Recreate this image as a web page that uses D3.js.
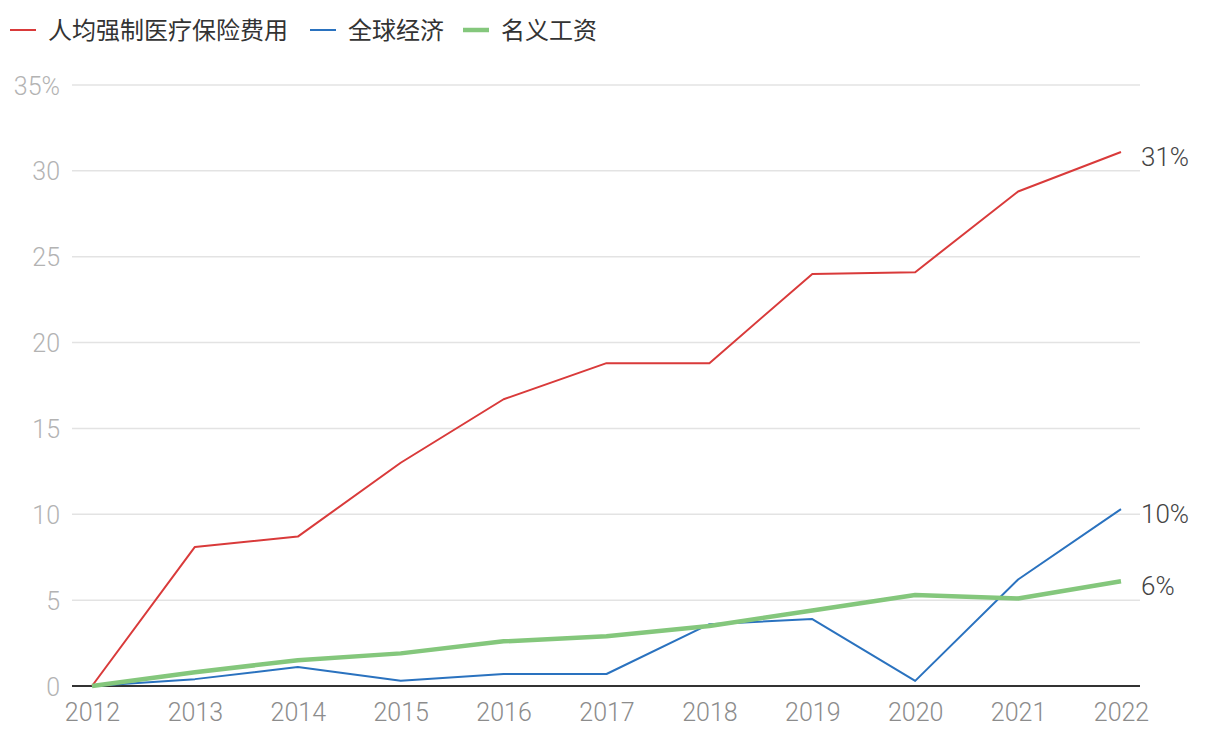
<!DOCTYPE html>
<html>
<head>
<meta charset="utf-8">
<script src="https://cdn.jsdelivr.net/npm/d3@7"></script>
<style>
  body { margin: 0; background: #fff; }
  svg { font-family: "Noto Sans CJK SC", "Noto Sans", sans-serif; }
</style>
</head>
<body>
<div id="container"></div>
<script>
const years = [2012, 2013, 2014, 2015, 2016, 2017, 2018, 2019, 2020, 2021, 2022];
const insurance = [0, 8.1, 8.7, 13.0, 16.7, 18.8, 18.8, 24.0, 24.1, 28.8, 31.1];
const economy = [0, 0.4, 1.1, 0.3, 0.7, 0.7, 3.6, 3.9, 0.3, 6.2, 10.3];
const wages = [0, 0.8, 1.5, 1.9, 2.6, 2.9, 3.5, 4.4, 5.3, 5.1, 6.1];
const seriesNames = ["人均强制医疗保险费用", "全球经济", "名义工资"];
const endLabels = ["31%", "10%", "6%"];
const yTicks = [0, 5, 10, 15, 20, 25, 30, 35];

const w = 1220, h = 738;
const numFont = "Roboto, 'Noto Sans', sans-serif";
const svg = d3.select("#container").append("svg").attr("width", w).attr("height", h);

const xScale = d3.scaleLinear().domain([2012, 2022]).range([92, 1121]);
const yScale = d3.scaleLinear().domain([0, 35]).range([686, 85]);

const series = [
  {name: seriesNames[0], values: insurance, color: "#d93a3a", width: 2, label: endLabels[0]},
  {name: seriesNames[1], values: economy, color: "#2a72bf", width: 2, label: endLabels[1]},
  {name: seriesNames[2], values: wages, color: "#84c77c", width: 4.5, label: endLabels[2]}
];

// grid
svg.append("g").selectAll("line")
  .data(yTicks.filter(d => d > 0))
  .enter()
  .append("line")
    .attr("x1", 72).attr("x2", 1140)
    .attr("y1", d => yScale(d)).attr("y2", d => yScale(d))
    .attr("stroke", "#e3e3e3").attr("stroke-width", 1.5);

// y axis labels
const yAxis = d3.axisLeft(yScale).tickValues(yTicks).tickSize(0).tickPadding(0)
  .tickFormat(d => d === 35 ? "35%" : d);
svg.append("g").attr("transform", "translate(60,1)").call(yAxis)
  .call(g => g.select(".domain").remove())
  .call(g => g.selectAll("text")
    .attr("fill", "#b3b3b3").style("font-size", "25px")
    .style("font-weight", 300).style("font-family", numFont));

// x axis labels
const xAxis = d3.axisBottom(xScale).tickValues(years).tickSize(0).tickPadding(0)
  .tickFormat(d3.format("d"));
svg.append("g").attr("transform", "translate(0,703)").call(xAxis)
  .call(g => g.select(".domain").remove())
  .call(g => g.selectAll("text")
    .attr("fill", "#8c8c8c").style("font-size", "25px")
    .style("font-weight", 300).style("font-family", numFont));

// baseline
svg.append("line")
  .attr("x1", 72).attr("x2", 1140)
  .attr("y1", yScale(0)).attr("y2", yScale(0))
  .attr("stroke", "#333").attr("stroke-width", 2);

const line = d3.line().x((d, i) => xScale(years[i])).y(d => yScale(d));

series.forEach(s => {
  svg.append("path")
    .datum(s.values)
    .attr("d", line)
    .attr("fill", "none")
    .attr("stroke", s.color)
    .attr("stroke-width", s.width)
    .attr("stroke-linejoin", "round");
});

// end labels
svg.append("g").selectAll("text")
  .data(series)
  .enter()
  .append("text")
    .attr("x", 1141)
    .attr("y", d => yScale(d.values[d.values.length - 1]) + 14)
    .attr("fill", "#444")
    .style("font-size", "26px")
    .style("font-weight", 300)
    .style("font-family", numFont)
    .text(d => d.label);

// legend
const legendX = [10, 310, 463];
const item = svg.append("g").attr("id", "legend").selectAll("g")
  .data(series)
  .enter()
  .append("g")
    .attr("transform", (d, i) => `translate(${legendX[i]},30)`);
item.append("line")
  .attr("x1", 0).attr("x2", 26)
  .attr("stroke", d => d.color)
  .attr("stroke-width", d => d.width);
item.append("text")
  .attr("x", 38).attr("y", 9)
  .attr("fill", "#333")
  .style("font-size", "24px")
  .text(d => d.name);
</script>
</body>
</html>
